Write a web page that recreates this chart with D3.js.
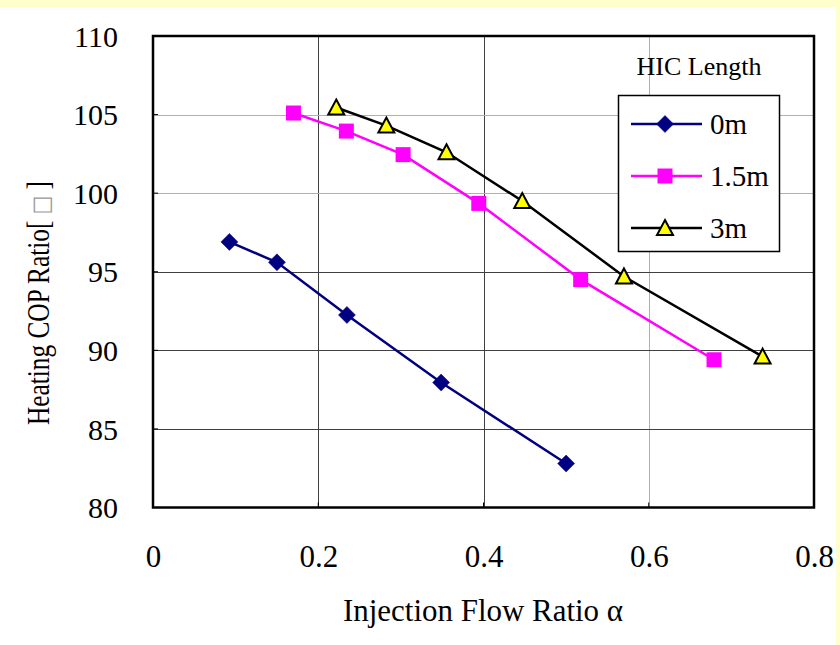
<!DOCTYPE html>
<html>
<head>
<meta charset="utf-8">
<script src="https://cdn.jsdelivr.net/npm/d3@7"></script>
<style>
html,body{margin:0;padding:0;background:#FFFFCC;}
svg{display:block;}
text{font-family:"Liberation Serif","Times New Roman",serif;fill:#000;}
</style>
</head>
<body>
<svg id="chart" width="840" height="645"></svg>
<script>
// ---- data ----
const seriesNames = ["0m", "1.5m", "3m"];
const alpha0  = [0.0925, 0.150, 0.2347, 0.3487, 0.500];
const cop0    = [96.9, 95.6, 92.25, 87.95, 82.8];
const alpha15 = [0.170, 0.234, 0.3027, 0.3943, 0.5176, 0.679];
const cop15   = [105.1, 103.95, 102.45, 99.35, 94.5, 89.4];
const alpha3  = [0.2218, 0.2824, 0.3552, 0.4469, 0.570, 0.7378];
const cop3    = [105.45, 104.3, 102.6, 99.5, 94.7, 89.6];
const xTicks = [0, 0.2, 0.4, 0.6, 0.8];
const yTicks = [80, 85, 90, 95, 100, 105, 110];
const xTickLabels = ["0", "0.2", "0.4", "0.6", "0.8"];
const yTickLabels = ["80", "85", "90", "95", "100", "105", "110"];
const xTitle = "Injection Flow Ratio α";
const yTitleParts = ["Heating COP Ratio[ ", "\u25A1", " ]"];
const legendTitle = "HIC Length";

// ---- layout ----
const svg = d3.select("#chart");
svg.append("rect").attr("x", 0).attr("y", 7).attr("width", 836).attr("height", 638).attr("fill", "#fff");

const L = 153, R = 814, T = 36, B = 507.5;
const x = d3.scaleLinear().domain([0, 0.8]).range([L, R]);
const y = d3.scaleLinear().domain([80, 110]).range([B, T]);

svg.append("rect").attr("x", L).attr("y", T).attr("width", R - L).attr("height", B - T).attr("fill", "#fff");

// grid
const g = svg.append("g");
g.selectAll(".vg").data(xTicks.slice(1, -1)).join("line")
  .attr("x1", d => Math.round(x(d)) + 0.5).attr("x2", d => Math.round(x(d)) + 0.5)
  .attr("y1", T).attr("y2", B)
  .attr("stroke", (d, i) => i === 2 ? "#b0b0b0" : "#404040").attr("stroke-width", 1);
g.selectAll(".hg").data(yTicks.slice(1, -1)).join("line")
  .attr("x1", L).attr("x2", R)
  .attr("y1", d => Math.round(y(d)) + 0.5).attr("y2", d => Math.round(y(d)) + 0.5)
  .attr("stroke", d => d >= 100 ? "#b0b0b0" : "#404040").attr("stroke-width", 1);

// axes (labels only, via d3 axes)
const xAxis = d3.axisBottom(x).tickValues(xTicks).tickFormat((d, i) => xTickLabels[i]).tickSize(0).tickPadding(0);
const gx = svg.append("g").attr("transform", `translate(0,${B})`).call(xAxis);
gx.select(".domain").remove();
gx.selectAll("text").attr("dy", null).attr("y", 59).style("font-size", "31px")
  .style("font-family", '"Liberation Serif","Times New Roman",serif');

const yAxis = d3.axisLeft(y).tickValues(yTicks).tickFormat((d, i) => yTickLabels[i]).tickSize(0).tickPadding(0);
const gy = svg.append("g").attr("transform", `translate(${L},0)`).call(yAxis);
gy.select(".domain").remove();
gy.selectAll("text").attr("x", -35).attr("dy", "0.34em").style("font-size", "30px")
  .style("font-family", '"Liberation Serif","Times New Roman",serif');

// inner tick marks
svg.selectAll(".yt").data(yTicks).join("line")
  .attr("x1", L).attr("x2", L + 5).attr("y1", d => y(d)).attr("y2", d => y(d)).attr("stroke", "#000");
svg.selectAll(".xt").data(xTicks).join("line")
  .attr("y1", B).attr("y2", B - 5).attr("x1", d => x(d)).attr("x2", d => x(d)).attr("stroke", "#000");

// frame
svg.append("rect").attr("x", L).attr("y", T).attr("width", R - L).attr("height", B - T)
  .attr("fill", "none").attr("stroke", "#000").attr("stroke-width", 2.5);

// titles
svg.append("text").attr("x", 483).attr("y", 621).attr("text-anchor", "middle")
  .style("font-size", "32px").attr("textLength", 280).attr("lengthAdjust", "spacingAndGlyphs").text(xTitle);
svg.append("text").attr("transform", "translate(49,303) rotate(-90)").attr("text-anchor", "middle")
  .style("font-size", "31px").attr("textLength", 244).attr("lengthAdjust", "spacingAndGlyphs")
  .call(t => {
    t.append("tspan").text(yTitleParts[0]);
    t.append("tspan").attr("fill", "#999").style("font-family", "DejaVu Sans").style("font-size", "24px").text(yTitleParts[1]);
    t.append("tspan").text(yTitleParts[2]);
  });

// markers
function diamond(sel, c) { sel.append("path").attr("d", "M0,-8.5L8.5,0L0,8.5L-8.5,0Z").attr("fill", c).attr("stroke", c).attr("stroke-width", 0.5); }
function square(sel, c) { sel.append("rect").attr("x", -7.5).attr("y", -7.5).attr("width", 15).attr("height", 15).attr("fill", c); }
function triangle(sel) { sel.append("path").attr("d", "M0,-8L8,7L-8,7Z").attr("fill", "#FFFF00").attr("stroke", "#000").attr("stroke-width", 2).attr("stroke-linejoin", "miter"); }

const series = [
  { name: seriesNames[0], xs: alpha0, ys: cop0, color: "#000080", mk: s => diamond(s, "#000080") },
  { name: seriesNames[1], xs: alpha15, ys: cop15, color: "#FF00FF", mk: s => square(s, "#FF00FF") },
  { name: seriesNames[2], xs: alpha3, ys: cop3, color: "#000000", mk: s => triangle(s) }
];

const line = d3.line().x(d => x(d[0])).y(d => y(d[1]));
series.forEach(s => {
  const pts = s.xs.map((v, i) => [v, s.ys[i]]);
  svg.append("path").datum(pts).attr("d", line).attr("fill", "none")
    .attr("stroke", s.color).attr("stroke-width", 2.5);
  svg.append("g").selectAll("g").data(pts).join("g")
    .attr("transform", d => `translate(${x(d[0])},${y(d[1])})`)
    .each(function () { s.mk(d3.select(this)); });
});

// legend
svg.append("text").attr("x", 699).attr("y", 75).attr("text-anchor", "middle")
  .style("font-size", "26px").text(legendTitle);
svg.append("rect").attr("x", 618.5).attr("y", 95.5).attr("width", 161).attr("height", 156)
  .attr("fill", "#fff").attr("stroke", "#000").attr("stroke-width", 1.5);
const ly = [124, 176, 228];
series.forEach((s, i) => {
  const lg = svg.append("g").attr("transform", `translate(0,${ly[i]})`);
  lg.append("line").attr("x1", 631).attr("x2", 702).attr("y1", 0).attr("y2", 0)
    .attr("stroke", s.color).attr("stroke-width", 2.5);
  const m = lg.append("g").attr("transform", "translate(665,0)");
  s.mk(m);
  lg.append("text").attr("x", 710).attr("y", 0).attr("dy", "0.35em").style("font-size", "29px").text(s.name);
});
</script>
</body>
</html>
